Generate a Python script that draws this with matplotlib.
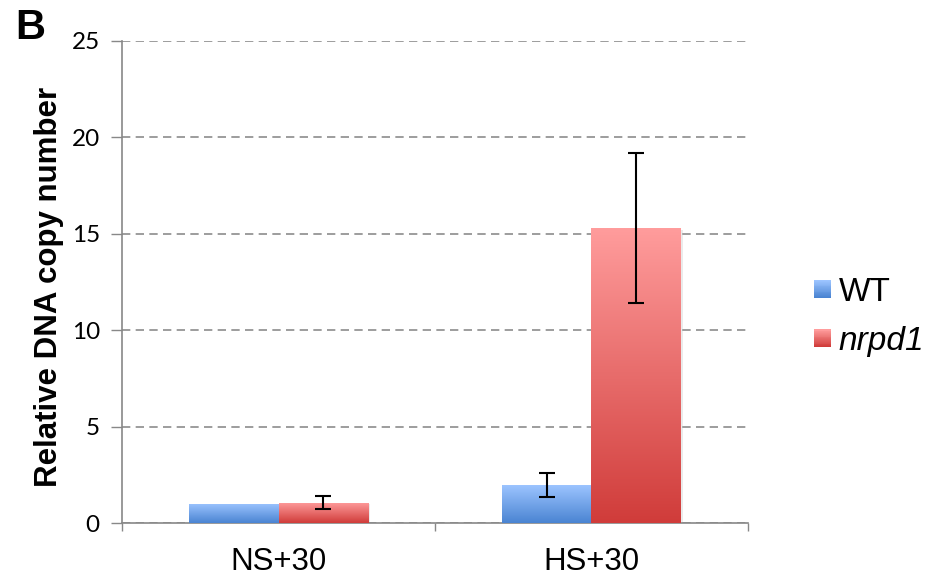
import numpy as np
import matplotlib
matplotlib.use("Agg")
import matplotlib.pyplot as plt
from matplotlib.colors import LinearSegmentedColormap, to_rgb
from matplotlib.patches import Rectangle
from matplotlib.legend_handler import HandlerBase

categories = ["NS+30", "HS+30"]
series_names = ["WT", "nrpd1"]
wt_values = [1.0, 1.97]
wt_errors = [0.0, 0.62]
nrpd1_values = [1.05, 15.3]
nrpd1_errors = [0.33, 3.9]
y_ticks = [0, 5, 10, 15, 20, 25]

fig = plt.figure(figsize=(9.33, 5.83), dpi=100)
ax = fig.add_axes([0.1308, 0.1029, 0.8017 - 0.1308, 0.9297 - 0.1029])

grad = {
    "WT": ("#4a84d2", "#9cc4ff"),
    "nrpd1": ("#d03c3a", "#ff9c9c"),
}

bar_w = 0.287
x = np.arange(len(categories))
series = [(wt_values, wt_errors, "WT", -bar_w / 2),
          (nrpd1_values, nrpd1_errors, "nrpd1", bar_w / 2)]

for vals, errs, name, off in series:
    cmap = LinearSegmentedColormap.from_list(name, [grad[name][0], grad[name][1]])
    bars = ax.bar(x + off, vals, bar_w, color="none", edgecolor="none", zorder=3)
    for b in bars:
        bx, by = b.get_x(), b.get_y()
        bw, bh = b.get_width(), b.get_height()
        sh = Rectangle((bx + 0.004, by - 0.08), bw, bh, facecolor="#000000", alpha=0.08,
                       edgecolor="none", zorder=2)
        ax.add_patch(sh)
        img = ax.imshow(np.linspace(0, 1, 256).reshape(-1, 1), cmap=cmap,
                        extent=[bx, bx + bw, by, by + bh], origin="lower",
                        aspect="auto", zorder=3)
        img.set_clip_path(b)
    xs = [xi + off for xi, e in zip(x, errs) if e > 0]
    vs = [v for v, e in zip(vals, errs) if e > 0]
    es = [e for e in errs if e > 0]
    if xs:
        ax.errorbar(xs, vs, yerr=es, fmt="none", ecolor="black",
                    elinewidth=1.5, capsize=6, capthick=1.5, zorder=4)

ax.set_xlim(-0.5, 1.5)
ax.set_ylim(0, 25)
ax.set_yticks(y_ticks)
ax.set_yticklabels([str(t) for t in y_ticks], fontfamily="Lato", fontsize=17.5)
ax.yaxis.grid(True, linestyle=(0, (5, 3.2)), color="#8c8c8c", linewidth=1.2, zorder=0)
ax.set_axisbelow(True)

ax.set_xticks([-0.5, 0.5, 1.5])
ax.set_xticklabels([])
ax.set_xticks(x, minor=True)
ax.set_xticklabels(categories, minor=True, fontfamily="Liberation Sans", fontsize=22.5)
ax.tick_params(axis="x", which="minor", length=0, pad=17)
ax.tick_params(axis="x", which="major", length=6, color="#888888", width=1)
ax.tick_params(axis="y", length=8, color="#888888", width=1, pad=8)

for s in ["top", "right"]:
    ax.spines[s].set_visible(False)
for s in ["left", "bottom"]:
    ax.spines[s].set_color("#888888")
    ax.spines[s].set_linewidth(1.2)

ax.set_ylabel("Relative DNA copy number", fontfamily="Liberation Sans",
              fontweight="bold", fontsize=22.5)
ax.yaxis.set_label_coords(-0.092, 0.49)


class GradientHandler(HandlerBase):
    def __init__(self, c_bottom, c_top, n=20):
        super().__init__()
        self.cb = np.array(to_rgb(c_bottom))
        self.ct = np.array(to_rgb(c_top))
        self.n = n

    def create_artists(self, legend, orig_handle, xdescent, ydescent, width, height,
                       fontsize, trans):
        arts = []
        side = min(width, height)
        x0 = -xdescent
        y0 = -ydescent + (height - side) / 2
        for i in range(self.n):
            t = i / (self.n - 1)
            c = self.cb * (1 - t) + self.ct * t
            r = Rectangle((x0, y0 + side * i / self.n), side, side / self.n + 0.3,
                          facecolor=c, edgecolor="none", transform=trans)
            arts.append(r)
        return arts


h_wt = Rectangle((0, 0), 1, 1)
h_nr = Rectangle((0, 0), 1, 1)
leg = fig.legend([h_wt, h_nr], series_names, loc="center left",
                 bbox_to_anchor=(814 / 933, 1 - 317 / 583), frameon=False,
                 borderpad=0, borderaxespad=0,
                 handlelength=0.52, handleheight=0.52, handletextpad=0.22,
                 labelspacing=0.55, prop={"family": "Liberation Sans", "size": 24},
                 handler_map={h_wt: GradientHandler(*grad["WT"]),
                              h_nr: GradientHandler(*grad["nrpd1"])})
leg.get_texts()[1].set_fontstyle("italic")

fig.text(0.016, 0.952, "B", fontfamily="Liberation Sans", fontweight="bold",
         fontsize=30, va="center", ha="left")

fig.savefig("out.png", dpi=100)
